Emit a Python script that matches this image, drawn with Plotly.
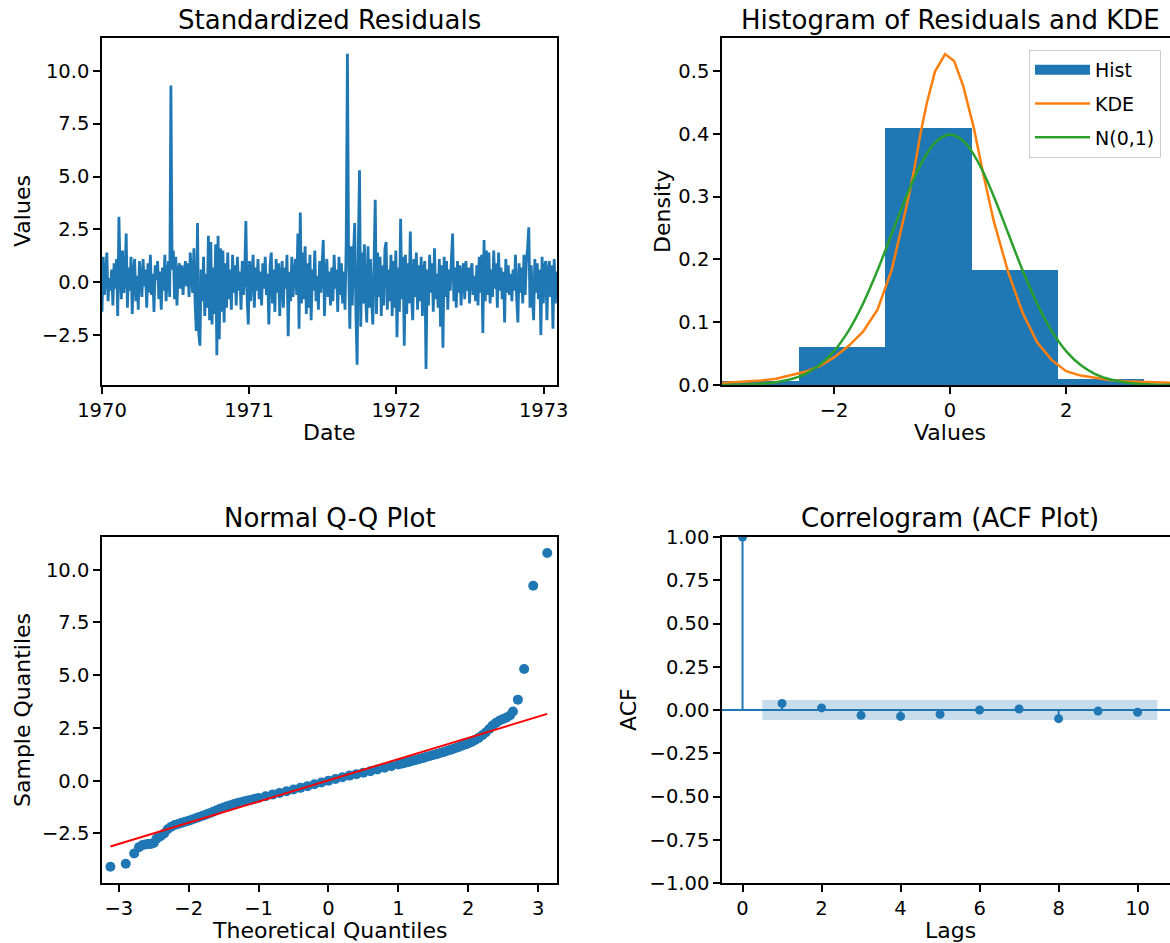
import plotly.graph_objects as go
import pandas as pd

W, H = 1170, 943
C0 = '#1f77b4'
C1 = '#ff7f0e'
C2 = '#2ca02c'
FONT = 'DejaVu Sans'

# ---------------- data ----------------
residual_start = '1970-01-01'
residual_step_days = 3
residuals = [
    -1.4, 1.2, -0.6, 0.3, 1.4, -0.9, 0.2, -0.4, 0.6, -1.1,
    0.9, -0.3, 1.1, -1.6, 3.1, 0.4, -0.8, 1.5, -0.5, 0.2,
    2.3, -1.2, 0.7, -0.4, 1.2, -1.5, 0.5, 1.1, -0.9, 0.3,
    -1.3, 1.0, 0.2, -0.7, 1.1, -0.2, 0.6, -1.2, 0.9, -0.5,
    1.3, -0.6, 0.4, -1.4, 0.8, 0.1, 1.0, -0.8, 0.5, -1.3,
    0.7, -0.4, 1.3, -0.9, 0.3, 1.0, -0.7, 9.3, 0.6, 1.5,
    -0.8, 1.2, -1.1, 0.5, 0.9, -0.3, 0.8, -0.6, 0.4, 1.0,
    -0.2, 0.9, -0.7, 1.4, 0.3, -0.5, 1.6, -1.0, -2.3, 2.8,
    -2.4, -3.0, 0.6, -0.9, 1.2, -1.6, 0.4, -1.2, 2.2, -1.8,
    1.9, -2.0, 0.7, -1.5, 1.8, -3.45, 2.2, -2.7, 1.6, -1.4,
    1.5, -1.9, 0.9, -1.2, 1.4, -0.8, 0.6, -1.3, 1.3, -0.5,
    0.8, -1.1, 1.2, -0.4, 0.5, -1.3, 1.0, -0.6, 0.3, 2.9,
    -0.7, -2.0, 1.0, -0.9, 0.4, 1.3, -1.2, 0.7, -0.4, 1.1,
    -0.8, 0.5, -1.1, 0.9, -0.3, 1.2, -0.6, 0.4, -2.0, 0.8,
    1.4, -1.0, 0.6, -1.4, 1.1, -0.5, 0.9, -1.6, 0.3, 1.0,
    -1.2, 0.7, -0.3, 1.3, -2.55, 0.5, -0.9, 1.2, -0.7, 0.4,
    1.1, -0.6, 2.3, -2.2, 3.3, -1.0, 1.4, -0.8, 1.7, -1.5,
    0.9, -1.2, 1.3, -1.8, 0.6, -0.4, 1.5, -0.9, 0.3, -1.3,
    1.0, -0.5, 0.8, 2.0, -1.6, 0.4, 1.1, -0.7, 0.5, -1.1,
    0.7, -0.9, 1.3, -0.3, 0.6, -1.4, 1.2, -0.6, 0.9, -1.0,
    0.5, -1.3, 1.9, 10.8, 0.8, -2.2, 1.7, -1.1, 1.3, 2.8,
    -1.4, -3.9, 1.6, 5.3, -2.1, 1.4, -1.0, 1.8, -0.6, -1.9,
    1.7, -1.2, 1.1, -0.8, -2.0, 0.9, 3.9, -1.5, 1.4, -0.7,
    1.2, -1.6, 0.8, -1.1, 1.6, 1.9, -1.3, 0.6, -0.9, 1.3,
    -1.6, 1.0, -1.2, 1.5, -2.6, 0.7, -1.4, 3.0, -0.8, 1.2,
    -3.0, 1.3, -1.5, 0.9, -1.0, 2.4, -0.6, -1.8, 1.1, -0.7,
    1.4, -1.3, 0.8, -0.9, 1.2, -1.6, 0.5, 1.0, -4.1, 0.6,
    -1.1, 1.3, -0.5, 0.9, -1.4, 1.6, -0.8, 0.4, -1.2, 1.1,
    -2.1, 0.8, -3.1, 1.2, -0.7, 1.0, -1.3, 0.6, -0.4, 1.1,
    2.3, -0.9, 0.7, -1.2, 1.0, -0.5, 0.8, -1.1, 0.4, 0.9,
    -0.8, 1.0, -0.4, 0.7, -1.0, 0.5, 0.9, -0.6, 0.3, -0.9,
    0.8, -1.1, 1.2, -0.5, 1.3, -2.4, 2.0, -0.9, 1.5, -0.6,
    1.4, -1.0, 0.6, -0.7, 1.5, -0.3, 0.9, -1.2, 1.4, -0.4,
    0.7, -0.8, 0.5, -1.9, 1.1, -0.5, 0.8, -0.6, 0.4, -0.9,
    0.6, -0.4, 1.3, -0.8, -1.9, 0.9, -0.5, 0.7, -1.0, 1.3,
    -0.6, 1.0, 1.6, 2.6, -1.2, 0.8, -0.7, -1.8, 1.1, -0.5,
    0.9, -0.8, 0.6, -2.5, 1.2, -1.0, 0.7, 1.0, -1.8, 0.5,
    1.0, -0.7, 0.8, -2.2, 1.1, -1.0, 0.5, -0.6, 0.4, -0.3,
]
ts_year_ticks = ['1970', '1971', '1972', '1973']

hist_edges = [-4.10, -2.61, -1.12, 0.37, 1.86, 3.35, 4.84]
hist_density = [0.0064, 0.0605, 0.409, 0.1836, 0.0100, 0.0006]

kde_x = [-4.0, -3.75, -3.5, -3.25, -3.0, -2.75, -2.5, -2.25, -2.0, -1.75, -1.5,
         -1.25, -1.0, -0.75, -0.63, -0.5, -0.4, -0.26, -0.086, 0.07, 0.23, 0.41,
         0.57, 0.75, 1.0, 1.25, 1.5, 1.75, 2.0, 2.25, 2.5, 2.75, 3.0, 3.25, 3.5,
         3.75, 4.0]
kde_y = [0.003, 0.004, 0.005, 0.007, 0.010, 0.015, 0.021, 0.030, 0.044, 0.062, 0.085,
         0.120, 0.185, 0.285, 0.337, 0.405, 0.449, 0.499, 0.527, 0.516, 0.475, 0.409,
         0.337, 0.262, 0.180, 0.115, 0.068, 0.040, 0.022, 0.015, 0.011, 0.008, 0.006,
         0.005, 0.004, 0.003, 0.003]

norm_x = [-4.0, -3.75, -3.5, -3.25, -3.0, -2.75, -2.5, -2.25, -2.0, -1.75, -1.5,
          -1.25, -1.0, -0.75, -0.5, -0.25, 0.0, 0.25, 0.5, 0.75, 1.0, 1.25, 1.5,
          1.75, 2.0, 2.25, 2.5, 2.75, 3.0, 3.25, 3.5, 3.75, 4.0]
norm_y = [0.0001, 0.0004, 0.0009, 0.0020, 0.0044, 0.0091, 0.0175, 0.0317, 0.0540,
          0.0863, 0.1295, 0.1826, 0.2420, 0.3011, 0.3521, 0.3867, 0.3989, 0.3867,
          0.3521, 0.3011, 0.2420, 0.1826, 0.1295, 0.0863, 0.0540, 0.0317, 0.0175,
          0.0091, 0.0044, 0.0020, 0.0009, 0.0004, 0.0001]

qq_theoretical = [-3.12, -2.90, -2.78, -2.71, -2.66, -2.62, -2.58, -2.54, -2.50, -2.46,
                  -2.43, -2.40, -2.35, -2.30, -2.25, -2.20, -2.15, -2.10, -2.05, -2.00,
                  -1.95, -1.90, -1.85, -1.80, -1.75, -1.70, -1.65, -1.60, -1.55, -1.50,
                  -1.45, -1.40, -1.35, -1.30, -1.25, -1.20, -1.15, -1.10, -1.05, -1.00,
                  -0.90, -0.80, -0.70, -0.60, -0.50, -0.40, -0.30, -0.20, -0.10, 0.00,
                  0.10, 0.20, 0.30, 0.40, 0.50, 0.60, 0.70, 0.80, 0.90, 1.00,
                  1.05, 1.10, 1.15, 1.20, 1.25, 1.30, 1.35, 1.40, 1.45, 1.50,
                  1.55, 1.60, 1.65, 1.70, 1.75, 1.80, 1.85, 1.90, 1.95, 2.00,
                  2.05, 2.10, 2.15, 2.20, 2.25, 2.30, 2.35, 2.40, 2.45, 2.50,
                  2.55, 2.60, 2.64, 2.71, 2.80, 2.93, 3.13]
qq_sample = [-4.08, -3.94, -3.45, -3.15, -3.05, -3.02, -3.00, -3.00, -2.95, -2.75,
             -2.68, -2.62, -2.50, -2.30, -2.18, -2.10, -2.05, -2.00, -1.95, -1.90,
             -1.84, -1.78, -1.72, -1.66, -1.60, -1.54, -1.47, -1.40, -1.33, -1.27,
             -1.21, -1.16, -1.11, -1.06, -1.02, -0.98, -0.94, -0.90, -0.86, -0.82,
             -0.74, -0.66, -0.58, -0.50, -0.42, -0.34, -0.26, -0.17, -0.09, 0.00,
             0.08, 0.16, 0.24, 0.31, 0.38, 0.45, 0.53, 0.61, 0.69, 0.77,
             0.81, 0.85, 0.89, 0.94, 0.98, 1.03, 1.07, 1.12, 1.17, 1.22,
             1.26, 1.31, 1.36, 1.42, 1.47, 1.53, 1.58, 1.64, 1.70, 1.76,
             1.84, 1.93, 2.03, 2.15, 2.28, 2.45, 2.62, 2.75, 2.85, 2.92,
             3.00, 3.10, 3.28, 3.84, 5.29, 9.24, 10.79]
qq_line_slope = 1.006
qq_line_intercept = 0.017

acf_lags = [0, 1, 2, 3, 4, 5, 6, 7, 8, 9, 10]
acf_values = [1.0, 0.038, 0.012, -0.031, -0.037, -0.025, 0.000, 0.006, -0.050, -0.006, -0.013]
acf_conf = [0.058, 0.058, 0.058, 0.058, 0.058, 0.058, 0.058, 0.058, 0.058, 0.058]

# ---------------- layout helpers ----------------
def xdom(a, b):
    return [a / W, min(b / W, 1.0)]

def ydom(top, bottom):
    return [1 - bottom / H, 1 - top / H]

TOP_ROW = (38, 385)
BOT_ROW = (537, 883)
LEFT_COL = (102, 557)
RIGHT_COL = (722, 1170)

axis_common = dict(
    showline=True, linecolor='black', linewidth=1.5,
    ticks='outside', ticklen=7, tickwidth=1.5, tickcolor='black',
    tickfont=dict(family=FONT, size=19.5, color='black'),
    showgrid=False, zeroline=False, automargin=False,
)

fig = go.Figure()

# ---- panel 1: standardized residuals ----
dates = pd.date_range(residual_start, periods=len(residuals), freq=f'{residual_step_days}D')
fig.add_trace(go.Scatter(x=dates, y=residuals, mode='lines',
                         line=dict(color=C0, width=2.8, simplify=False), showlegend=False,
                         xaxis='x', yaxis='y'))

# ---- panel 2: histogram + KDE + N(0,1) ----
centers = [(hist_edges[i] + hist_edges[i + 1]) / 2 for i in range(len(hist_density))]
widths = [hist_edges[i + 1] - hist_edges[i] for i in range(len(hist_density))]
fig.add_trace(go.Bar(x=centers, y=hist_density, width=widths,
                     marker=dict(color=C0, line=dict(width=0)),
                     showlegend=False, xaxis='x2', yaxis='y2'))
fig.add_trace(go.Scatter(x=[None], y=[None], mode='lines', name='Hist',
                         line=dict(color=C0, width=14), legendgroup='g1',
                         xaxis='x2', yaxis='y2'))
fig.add_trace(go.Scatter(x=kde_x, y=kde_y, mode='lines', name='KDE',
                         line=dict(color=C1, width=2.5), legendgroup='g2',
                         xaxis='x2', yaxis='y2'))
fig.add_trace(go.Scatter(x=norm_x, y=norm_y, mode='lines', name='N(0,1)',
                         line=dict(color=C2, width=2.5, shape='spline'), legendgroup='g3',
                         xaxis='x2', yaxis='y2'))

# ---- panel 3: Q-Q plot ----
fig.add_trace(go.Scatter(x=qq_theoretical, y=qq_sample, mode='markers',
                         marker=dict(color=C0, size=10, line=dict(width=0)),
                         showlegend=False, xaxis='x3', yaxis='y3'))
qx = [min(qq_theoretical), max(qq_theoretical)]
qy = [qq_line_intercept + qq_line_slope * v for v in qx]
fig.add_trace(go.Scatter(x=qx, y=qy, mode='lines', line=dict(color='red', width=2),
                         showlegend=False, xaxis='x3', yaxis='y3'))

# ---- panel 4: ACF ----
band_x = [float(l) for l in acf_lags[1:]]
band_x[0] -= 0.5
band_x[-1] += 0.5
poly_x = band_x + band_x[::-1]
poly_y = acf_conf + [-c for c in acf_conf[::-1]]
fig.add_trace(go.Scatter(x=poly_x, y=poly_y, mode='lines', fill='toself',
                         fillcolor='rgba(31,119,180,0.25)', line=dict(width=0),
                         showlegend=False, xaxis='x4', yaxis='y4'))
stem_x, stem_y = [], []
for l, v in zip(acf_lags, acf_values):
    stem_x += [l, l, None]
    stem_y += [0, v, None]
fig.add_trace(go.Scatter(x=stem_x, y=stem_y, mode='lines', line=dict(color=C0, width=2),
                         showlegend=False, xaxis='x4', yaxis='y4'))
fig.add_trace(go.Scatter(x=acf_lags, y=acf_values, mode='markers',
                         marker=dict(color=C0, size=9), showlegend=False,
                         xaxis='x4', yaxis='y4'))
fig.add_shape(type='line', xref='x4 domain', yref='y4', x0=0, x1=1, y0=0, y1=0,
              line=dict(color=C0, width=2))

# ---------------- axes ----------------
ts_tickvals = [f'{y}-01-01' for y in ts_year_ticks]
fig.update_layout(
    xaxis=dict(axis_common, domain=xdom(*LEFT_COL), anchor='y', mirror=True, type='date',
               range=['1970-01-01', '1973-02-03'], tickvals=ts_tickvals, ticktext=ts_year_ticks),
    yaxis=dict(axis_common, domain=ydom(*TOP_ROW), anchor='x', mirror=True,
               range=[-4.86, 11.55], tickvals=[-2.5, 0, 2.5, 5, 7.5, 10],
               ticktext=['\u22122.5', '0.0', '2.5', '5.0', '7.5', '10.0']),
    xaxis2=dict(axis_common, domain=xdom(*RIGHT_COL), anchor='y2', mirror=True,
                range=[-3.93, 3.79], tickvals=[-2, 0, 2], ticktext=['\u22122', '0', '2']),
    yaxis2=dict(axis_common, domain=ydom(*TOP_ROW), anchor='x2', mirror=False,
                range=[0, 0.5525], tickvals=[0, 0.1, 0.2, 0.3, 0.4, 0.5],
                ticktext=['0.0', '0.1', '0.2', '0.3', '0.4', '0.5']),
    xaxis3=dict(axis_common, domain=xdom(*LEFT_COL), anchor='y3', mirror=True,
                range=[-3.24, 3.27], tickvals=[-3, -2, -1, 0, 1, 2, 3],
                ticktext=['\u22123', '\u22122', '\u22121', '0', '1', '2', '3']),
    yaxis3=dict(axis_common, domain=ydom(*BOT_ROW), anchor='x3', mirror=True,
                range=[-4.85, 11.55], tickvals=[-2.5, 0, 2.5, 5, 7.5, 10],
                ticktext=['\u22122.5', '0.0', '2.5', '5.0', '7.5', '10.0']),
    xaxis4=dict(axis_common, domain=xdom(*RIGHT_COL), anchor='y4', mirror=True,
                range=[-0.52, 10.82], tickvals=[0, 2, 4, 6, 8, 10],
                ticktext=['0', '2', '4', '6', '8', '10']),
    yaxis4=dict(axis_common, domain=ydom(*BOT_ROW), anchor='x4', mirror=False,
                range=[-1, 1], tickvals=[-1, -0.75, -0.5, -0.25, 0, 0.25, 0.5, 0.75, 1],
                ticktext=['\u22121.00', '\u22120.75', '\u22120.50', '\u22120.25', '0.00',
                          '0.25', '0.50', '0.75', '1.00']),
)

# ---------------- text ----------------
def ann(text, xp, yp, size, angle=0):
    fig.add_annotation(text=text, x=xp / W, y=1 - yp / H, xref='paper', yref='paper',
                       showarrow=False, textangle=angle, xanchor='center', yanchor='middle',
                       font=dict(family=FONT, size=size, color='black'))

ann('Standardized Residuals', 329.5, 20, 26)
ann('Histogram of Residuals and KDE', 950, 20, 26)
ann('Normal Q-Q Plot', 329.5, 518, 26)
ann('Correlogram (ACF Plot)', 950, 518, 26)
ann('Date', 329.5, 432, 22)
ann('Values', 950, 432, 22)
ann('Theoretical Quantiles', 329.5, 930, 22)
ann('Lags', 950, 930, 22)
ann('Values', 22, 211, 22, -90)
ann('Density', 662, 211, 22, -90)
ann('Sample Quantiles', 22, 710, 22, -90)
ann('ACF', 628, 710, 22, -90)

fig.update_layout(
    width=W, height=H, margin=dict(l=0, r=0, t=0, b=0),
    paper_bgcolor='white', plot_bgcolor='white',
    font=dict(family=FONT, color='black'),
    legend=dict(x=1029 / W, y=1 - 50 / H, xanchor='left', yanchor='top',
                bgcolor='rgba(255,255,255,0.8)', bordercolor='#cccccc', borderwidth=1,
                font=dict(family=FONT, size=19, color='black'),
                traceorder='grouped', tracegroupgap=6, itemwidth=55),
    bargap=0,
)

fig.write_html('out.html', config={'displayModeBar': False},
               post_script="document.body.style.margin='0';document.body.style.overflow='hidden';")
